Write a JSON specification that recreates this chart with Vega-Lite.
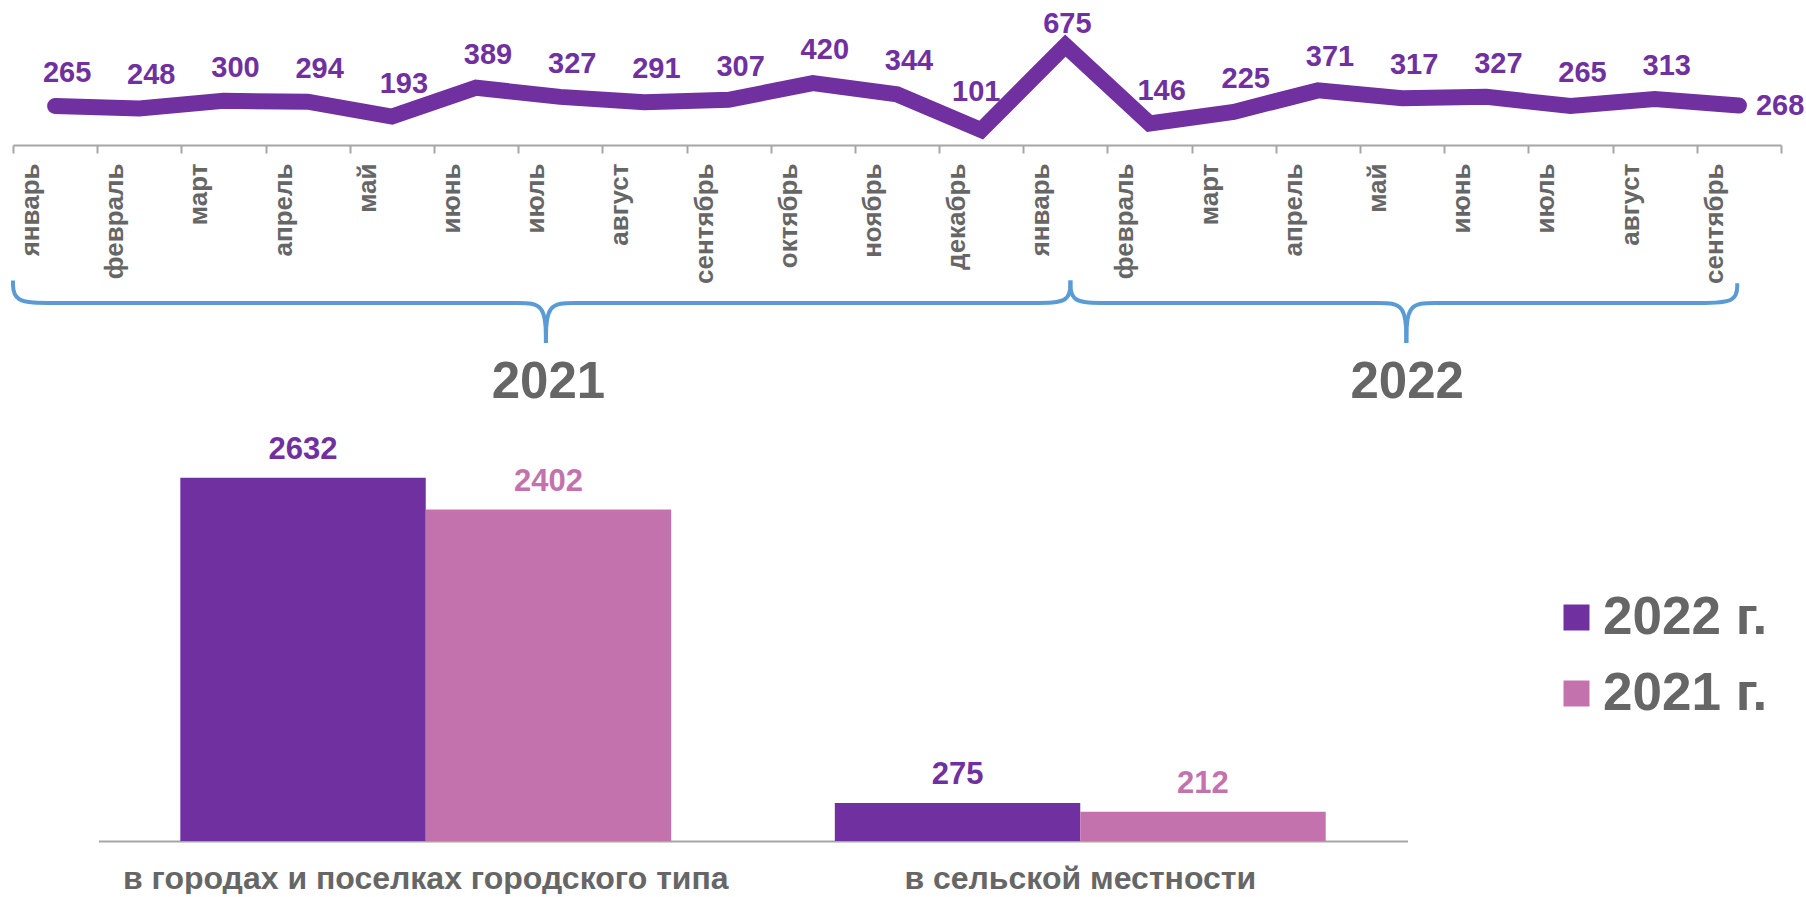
{
  "$schema": "https://vega.github.io/schema/vega-lite/v6.json",
  "padding": {"left": 0, "top": 0, "right": 0, "bottom": 0},
  "background": "white",
  "spacing": 5,
  "bounds": "flush",
  "config": {
    "view": {"stroke": null},
    "font": "Liberation Sans",
    "text": {"font": "Liberation Sans"},
    "axis": {"labelFont": "Liberation Sans", "grid": false},
    "legend": {"labelFont": "Liberation Sans"}
  },
  "datasets": {
    "months": [
      {"m": "январь 2021", "v": 265}, {"m": "февраль 2021", "v": 248}, {"m": "март 2021", "v": 300},
      {"m": "апрель 2021", "v": 294}, {"m": "май 2021", "v": 193}, {"m": "июнь 2021", "v": 389},
      {"m": "июль 2021", "v": 327}, {"m": "август 2021", "v": 291}, {"m": "сентябрь 2021", "v": 307},
      {"m": "октябрь 2021", "v": 420}, {"m": "ноябрь 2021", "v": 344}, {"m": "декабрь 2021", "v": 101},
      {"m": "январь 2022", "v": 675}, {"m": "февраль 2022", "v": 146}, {"m": "март 2022", "v": 225},
      {"m": "апрель 2022", "v": 371}, {"m": "май 2022", "v": 317}, {"m": "июнь 2022", "v": 327},
      {"m": "июль 2022", "v": 265}, {"m": "август 2022", "v": 313}, {"m": "сентябрь 2022", "v": 268}
    ],
    "brace": [
      {"seg": "a", "ord": 1, "x": 0, "y": 48}, {"seg": "a", "ord": 2, "x": 0, "y": 56.25},
      {"seg": "a", "ord": 3, "x": 0.45, "y": 56.25}, {"seg": "a", "ord": 4, "x": 1.2, "y": 56.25},
      {"seg": "a", "ord": 5, "x": 5.6, "y": 56.25}, {"seg": "a", "ord": 6, "x": 6.0, "y": 56.25},
      {"seg": "a", "ord": 7, "x": 6.33, "y": 56.25}, {"seg": "a", "ord": 8, "x": 6.33, "y": 71},
      {"seg": "b", "ord": 1, "x": 6.33, "y": 71}, {"seg": "b", "ord": 2, "x": 6.33, "y": 56.25},
      {"seg": "b", "ord": 3, "x": 6.66, "y": 56.25}, {"seg": "b", "ord": 4, "x": 7.06, "y": 56.25},
      {"seg": "b", "ord": 5, "x": 11.46, "y": 56.25}, {"seg": "b", "ord": 6, "x": 12.16, "y": 56.25},
      {"seg": "b", "ord": 7, "x": 12.56, "y": 56.25}, {"seg": "b", "ord": 8, "x": 12.56, "y": 48},
      {"seg": "c", "ord": 1, "x": 12.56, "y": 48}, {"seg": "c", "ord": 2, "x": 12.56, "y": 56.25},
      {"seg": "c", "ord": 3, "x": 12.96, "y": 56.25}, {"seg": "c", "ord": 4, "x": 13.66, "y": 56.25},
      {"seg": "c", "ord": 5, "x": 15.82, "y": 56.25}, {"seg": "c", "ord": 6, "x": 16.22, "y": 56.25},
      {"seg": "c", "ord": 7, "x": 16.55, "y": 56.25}, {"seg": "c", "ord": 8, "x": 16.55, "y": 71},
      {"seg": "d", "ord": 1, "x": 16.55, "y": 71}, {"seg": "d", "ord": 2, "x": 16.55, "y": 56.25},
      {"seg": "d", "ord": 3, "x": 16.88, "y": 56.25}, {"seg": "d", "ord": 4, "x": 17.28, "y": 56.25},
      {"seg": "d", "ord": 5, "x": 19.58, "y": 56.25}, {"seg": "d", "ord": 6, "x": 20.03, "y": 56.25},
      {"seg": "d", "ord": 7, "x": 20.48, "y": 56.25}, {"seg": "d", "ord": 8, "x": 20.48, "y": 49}
    ],
    "years": [
      {"label": "2021", "x": 6.36},
      {"label": "2022", "x": 16.56}
    ],
    "bars": [
      {"cat": "в городах и поселках городского типа", "year": "2022 г.", "v": 2632},
      {"cat": "в городах и поселках городского типа", "year": "2021 г.", "v": 2402},
      {"cat": "в сельской местности", "year": "2022 г.", "v": 275},
      {"cat": "в сельской местности", "year": "2021 г.", "v": 212}
    ]
  },
  "vconcat": [
    {
      "width": 1768,
      "height": 145,
      "data": {"name": "months"},
      "encoding": {
        "x": {
          "field": "m", "type": "ordinal", "sort": null,
          "scale": {"paddingInner": 0, "paddingOuter": 0},
          "axis": {
            "title": null,
            "labelExpr": "split(datum.label, ' ')[0]",
            "labelAngle": 270, "labelAlign": "right", "labelBaseline": "middle",
            "labelFontSize": 26, "labelFontWeight": "bold", "labelColor": "#666666",
            "labelPadding": 10, "labelOffset": -24.6, "labelLimit": 0, "labelOverlap": false,
            "tickBand": "extent", "tickSize": 8, "tickColor": "#A6A6A6", "tickWidth": 2,
            "domainColor": "#A6A6A6", "domainWidth": 2
          }
        },
        "y": {"field": "v", "type": "quantitative", "scale": {"domain": [0, 985], "nice": false}, "axis": null}
      },
      "layer": [
        {"mark": {"type": "line", "color": "#7030A0", "strokeWidth": 16, "strokeCap": "round", "strokeJoin": "miter"}},
        {
          "transform": [{"filter": "datum.m != 'сентябрь 2022' && datum.m != 'декабрь 2021' && datum.m != 'январь 2022'"}],
          "mark": {"type": "text", "dx": 12, "dy": -24, "baseline": "alphabetic", "fontSize": 29, "fontWeight": "bold", "color": "#7030A0"},
          "encoding": {"text": {"field": "v", "type": "quantitative"}}
        },
        {
          "transform": [{"filter": "datum.m == 'декабрь 2021'"}],
          "mark": {"type": "text", "dx": -5, "dy": -29, "baseline": "alphabetic", "fontSize": 29, "fontWeight": "bold", "color": "#7030A0"},
          "encoding": {"text": {"field": "v", "type": "quantitative"}}
        },
        {
          "transform": [{"filter": "datum.m == 'январь 2022'"}],
          "mark": {"type": "text", "dx": 2, "dy": -13, "baseline": "alphabetic", "fontSize": 29, "fontWeight": "bold", "color": "#7030A0"},
          "encoding": {"text": {"field": "v", "type": "quantitative"}}
        },
        {
          "transform": [{"filter": "datum.m == 'сентябрь 2022'"}],
          "mark": {"type": "text", "dx": 17, "align": "left", "baseline": "middle", "fontSize": 29, "fontWeight": "bold", "color": "#7030A0"},
          "encoding": {"text": {"field": "v", "type": "quantitative"}}
        }
      ]
    },
    {
      "width": 1768,
      "height": 272,
      "layer": [
        {
          "data": {"name": "brace"},
          "mark": {"type": "line", "interpolate": "basis", "color": "#5B9BD5", "strokeWidth": 4},
          "encoding": {
            "x": {"field": "x", "type": "quantitative", "scale": {"domain": [0, 21], "nice": false, "zero": false}, "axis": null},
            "y": {"field": "y", "type": "quantitative", "scale": {"domain": [0, 100], "reverse": true, "nice": false}, "axis": null},
            "detail": {"field": "seg", "type": "nominal"},
            "order": {"field": "ord", "type": "quantitative"}
          }
        },
        {
          "data": {"name": "years"},
          "mark": {"type": "text", "fontSize": 51, "fontWeight": "bold", "color": "#666666", "baseline": "alphabetic"},
          "encoding": {
            "x": {"field": "x", "type": "quantitative"},
            "y": {"datum": 91.2, "type": "quantitative"},
            "text": {"field": "label", "type": "nominal"}
          }
        }
      ]
    },
    {
      "width": 1768,
      "height": 414,
      "data": {"name": "bars"},
      "encoding": {
        "x": {
          "field": "cat", "type": "nominal", "sort": null,
          "scale": {"range": [85.5, 1394.5], "paddingInner": 0.25, "paddingOuter": 0.125},
          "axis": {
            "title": null, "ticks": false, "domainColor": "#A6A6A6", "domainWidth": 2,
            "labelFontSize": 32, "labelFontWeight": "bold", "labelColor": "#666666",
            "labelPadding": 22, "labelAngle": 0, "labelLimit": 0, "labelBaseline": "top"
          }
        },
        "xOffset": {"field": "year", "type": "nominal", "sort": ["2022 г.", "2021 г."], "scale": {"paddingInner": 0, "paddingOuter": 0}},
        "y": {"field": "v", "type": "quantitative", "scale": {"domain": [0, 3000], "nice": false}, "axis": null},
        "color": {
          "field": "year", "type": "nominal",
          "scale": {"domain": ["2022 г.", "2021 г."], "range": ["#7030A0", "#C472AE"]},
          "legend": {
            "title": null, "orient": "none", "legendX": 1537, "legendY": 591,
            "symbolType": "square", "symbolSize": 676, "symbolStrokeWidth": 0, "symbolOpacity": 1,
            "labelFontSize": 53, "labelFontWeight": "bold", "labelColor": "#666666",
            "labelOffset": 0, "rowPadding": 22, "padding": 0, "labelLimit": 0
          }
        }
      },
      "layer": [
        {"mark": {"type": "bar"}},
        {
          "mark": {"type": "text", "dy": -19, "baseline": "alphabetic", "fontSize": 31, "fontWeight": "bold"},
          "encoding": {"text": {"field": "v", "type": "quantitative"}}
        }
      ]
    }
  ]
}
